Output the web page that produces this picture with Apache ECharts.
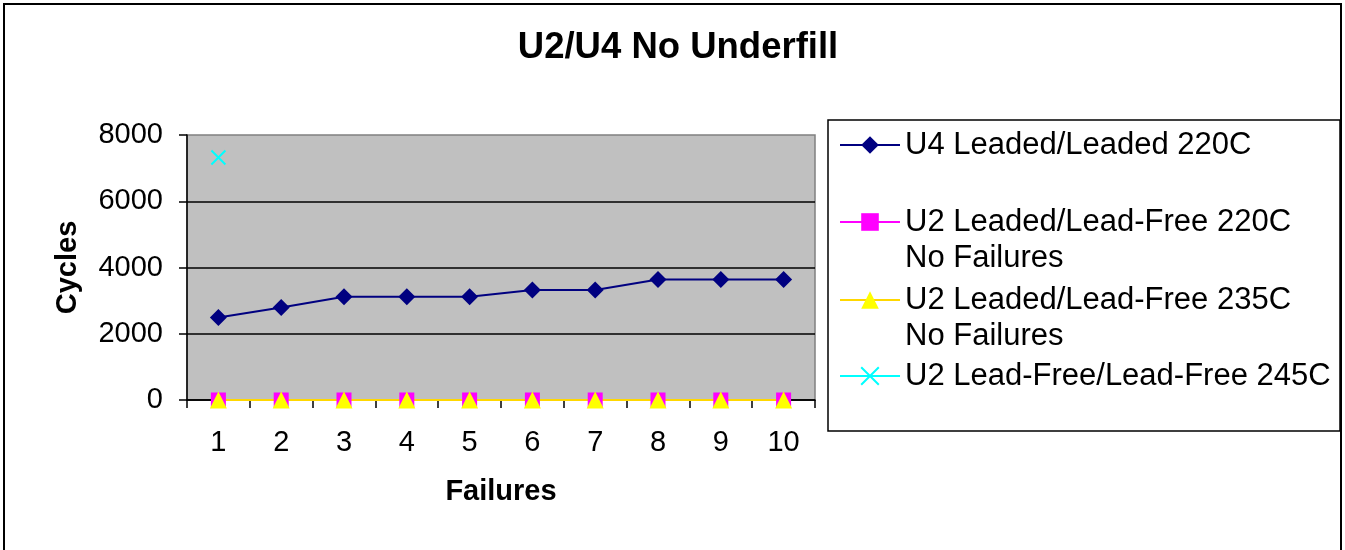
<!doctype html>
<html lang="en">
<head>
    <meta charset="UTF-8">
    <title>U2/U4 No Underfill</title>
    <style>
        html, body { margin: 0; padding: 0; background: #fff; }
        #main { width: 1345px; height: 550px; }
    </style>
</head>
<body>
    <div id="main"></div>
</body>
<script src="https://cdn.jsdelivr.net/npm/echarts@6/dist/echarts.min.js"></script>
<script type="text/javascript">
    // data
    const failures = ['1', '2', '3', '4', '5', '6', '7', '8', '9', '10']
    const u4Leaded220 = [2490, 2790, 3120, 3120, 3120, 3320, 3320, 3640, 3640, 3640]
    const u2LeadFree220 = [0, 0, 0, 0, 0, 0, 0, 0, 0, 0]
    const u2LeadFree235 = [0, 0, 0, 0, 0, 0, 0, 0, 0, 0]
    const u2LeadFree245 = [7320, null, null, null, null, null, null, null, null, null]
    const seriesNames = [
        'U4 Leaded/Leaded 220C',
        'U2 Leaded/Lead-Free 220C\nNo Failures',
        'U2 Leaded/Lead-Free 235C\nNo Failures',
        'U2 Lead-Free/Lead-Free 245C'
    ]

    const font = 'Liberation Sans, Arial, sans-serif'
    const myChart = echarts.init(document.getElementById('main'))

    // one legend per entry so each can sit where it does in the picture
    const legendTops = [127, 168, 246, 358]
    const legends = seriesNames.map((name, i) => ({
        data: [name],
        left: 839,
        top: legendTops[i],
        padding: 0,
        itemWidth: 60,
        itemHeight: 22,
        selectedMode: false,
        // blank first line keeps the icon level with the first text line
        formatter: n => n.indexOf('\n') >= 0 ? '\n' + n : n,
        textStyle: { fontFamily: font, fontSize: 31, lineHeight: 36, color: '#000' }
    }))

    const option = {
        animation: false,
        backgroundColor: '#fff',
        title: {
            text: 'U2/U4 No Underfill',
            left: 673,
            top: 24,
            textAlign: 'center',
            textStyle: { fontFamily: font, fontSize: 36.5, fontWeight: 'bold', color: '#000' }
        },
        graphic: [
            {
                type: 'rect', z: -10, silent: true,
                shape: { x: 4, y: 4, width: 1337, height: 560 },
                style: { fill: '#fff', stroke: '#000', lineWidth: 2 }
            },
            {
                type: 'rect', z: -5, silent: true,
                shape: { x: 828, y: 120, width: 512, height: 311 },
                style: { fill: '#fff', stroke: '#000', lineWidth: 1.5 }
            }
        ],
        legend: legends,
        grid: {
            left: 187,
            top: 135,
            width: 628,
            height: 265,
            show: true,
            backgroundColor: '#c0c0c0',
            borderColor: '#808080',
            borderWidth: 1.5
        },
        xAxis: {
            type: 'category',
            data: failures,
            boundaryGap: true,
            name: 'Failures',
            nameLocation: 'middle',
            nameGap: 77,
            nameTextStyle: { fontFamily: font, fontSize: 29, fontWeight: 'bold', color: '#000' },
            axisLine: { lineStyle: { color: '#000', width: 1.5 } },
            axisTick: { show: true, length: 8, interval: 0, lineStyle: { color: '#000', width: 1.5 } },
            axisLabel: { margin: 28, interval: 0, fontFamily: font, fontSize: 29, color: '#000' },
            splitLine: { show: false }
        },
        yAxis: {
            type: 'value',
            min: 0,
            max: 8000,
            interval: 2000,
            name: 'Cycles',
            nameLocation: 'middle',
            nameGap: 105,
            nameTextStyle: { fontFamily: font, fontSize: 29, fontWeight: 'bold', color: '#000' },
            axisLine: { show: true, lineStyle: { color: '#000', width: 1.5 } },
            axisTick: { show: true, length: 8, lineStyle: { color: '#000', width: 1.5 } },
            axisLabel: { margin: 24, fontFamily: font, fontSize: 29, color: '#000', formatter: v => String(v) },
            splitLine: { show: true, showMaxLine: false, lineStyle: { color: '#000', width: 1.5 } }
        },
        series: [
            {
                name: seriesNames[0],
                type: 'line',
                data: u4Leaded220,
                symbol: 'diamond',
                symbolSize: 17,
                showAllSymbol: true,
                itemStyle: { color: '#000080' },
                lineStyle: { color: '#000080', width: 2 }
            },
            {
                name: seriesNames[1],
                type: 'line',
                data: u2LeadFree220,
                symbol: 'rect',
                symbolSize: 15,
                showAllSymbol: true,
                itemStyle: { color: '#ff00ff' },
                lineStyle: { color: '#ff00ff', width: 1.5 }
            },
            {
                name: seriesNames[2],
                type: 'line',
                data: u2LeadFree235,
                symbol: 'triangle',
                symbolSize: 17,
                showAllSymbol: true,
                itemStyle: { color: '#ffff00' },
                lineStyle: { color: '#ffd700', width: 2 }
            },
            {
                name: seriesNames[3],
                type: 'line',
                data: u2LeadFree245,
                symbol: 'path://M0,0L10,10M10,0L0,10',
                symbolSize: 14,
                showAllSymbol: true,
                itemStyle: { color: '#00ffff', borderColor: '#00ffff', borderWidth: 2 },
                lineStyle: { color: '#00ffff', width: 1.5 }
            }
        ]
    }
    myChart.setOption(option)
</script>
</html>
